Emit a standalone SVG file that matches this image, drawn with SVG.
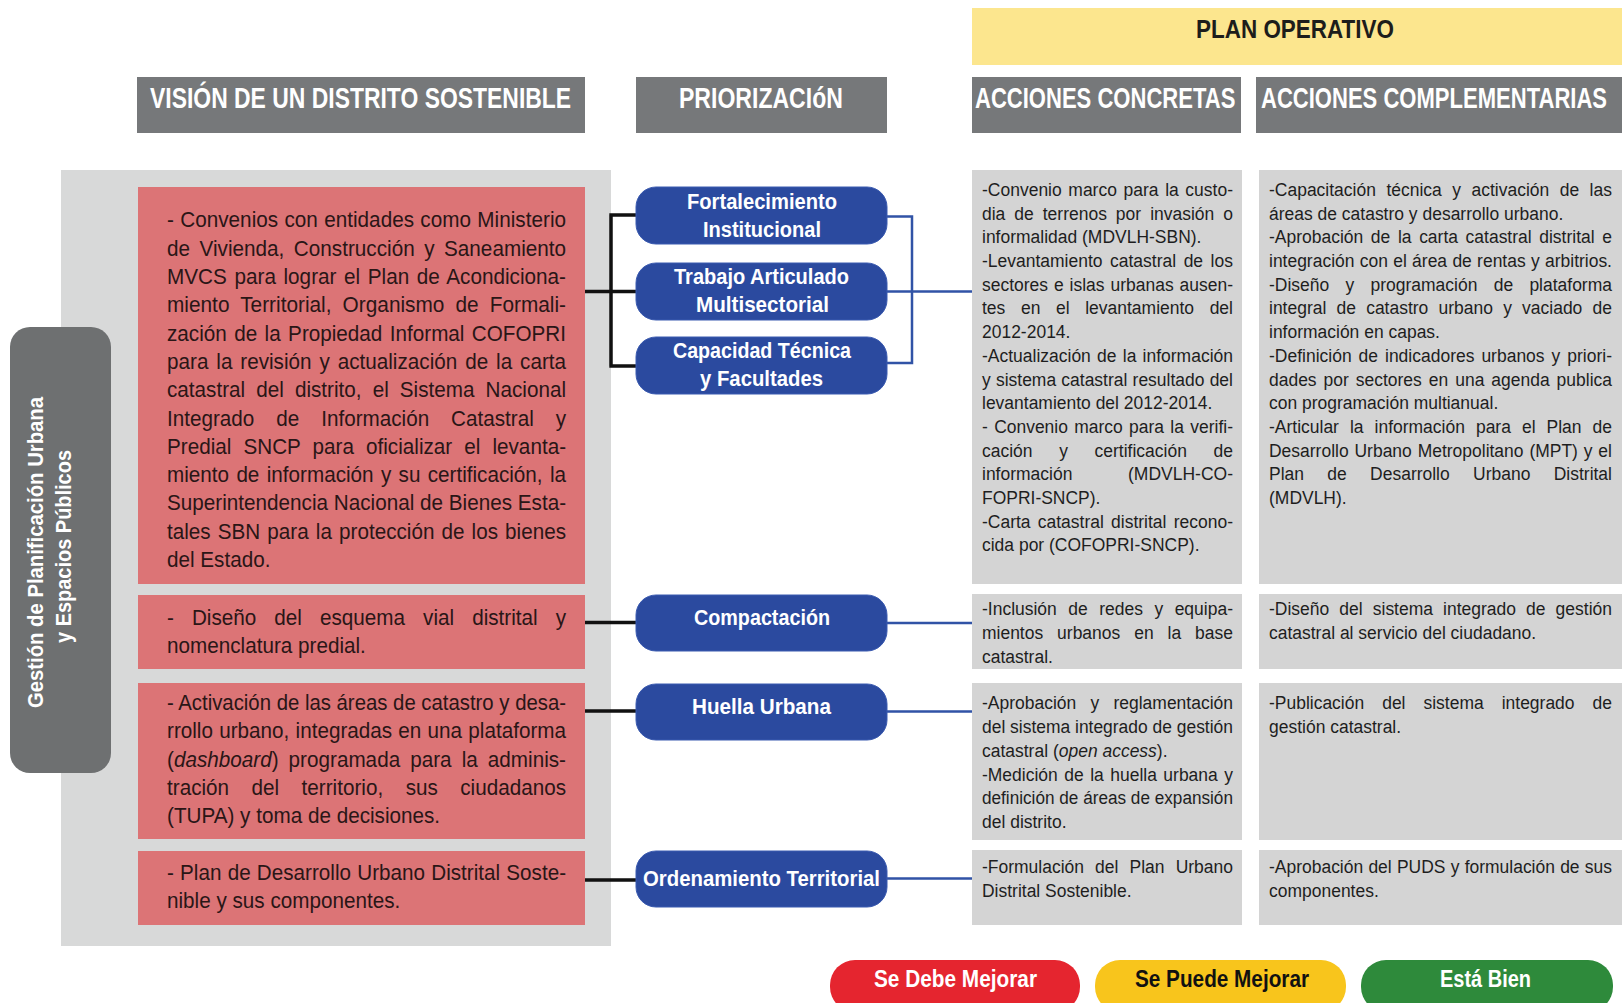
<svg xmlns="http://www.w3.org/2000/svg" width="1622" height="1003" viewBox="0 0 1622 1003">
<style>
.f{font-family:"Liberation Sans",Arial,sans-serif}
.rt{font-family:"Liberation Sans",Arial,sans-serif;font-size:22px;fill:#2a1616}
.ct{font-family:"Liberation Sans",Arial,sans-serif;font-size:19px;fill:#1e1e1e}
.hd{font-family:"Liberation Sans",Arial,sans-serif;font-weight:bold;font-size:29px;fill:#ffffff}
.pl{font-family:"Liberation Sans",Arial,sans-serif;font-weight:bold;font-size:22px;fill:#ffffff}
.lg{font-family:"Liberation Sans",Arial,sans-serif;font-weight:bold;font-size:24px}
.hbox{fill:#76787a}
.red{fill:#dc7476}
.col{fill:#d4d4d4}
.pill{fill:#2b4a9f;stroke:#3a5ab0;stroke-width:1}
.blk{fill:none;stroke:#111111;stroke-width:3.5}
.blu{fill:none;stroke:#3153a6;stroke-width:2.5}
</style>
<rect width="1622" height="1003" fill="#ffffff"/>

<!-- headers -->
<g id="plan-operativo">
<rect x="972" y="8" width="650" height="57" fill="#fce68e"/>
<text class="f" x="1196" y="38" font-weight="bold" font-size="25" fill="#1d1d1b" textLength="198" lengthAdjust="spacingAndGlyphs">PLAN OPERATIVO</text>
</g>
<g id="h-vision">
<rect class="hbox" x="137" y="77" width="448" height="56"/>
<text class="hd" transform="translate(150,108) scale(0.791,1)">VISIÓN DE UN DISTRITO SOSTENIBLE</text>
</g>
<g id="h-priorizacion">
<rect class="hbox" x="636" y="77" width="251" height="56"/>
<text class="hd" transform="translate(679,108) scale(0.795,1)">PRIORIZACIóN</text>
</g>
<g id="h-concretas">
<rect class="hbox" x="972" y="77" width="269" height="56"/>
<text class="hd" transform="translate(975,108) scale(0.76,1)">ACCIONES CONCRETAS</text>
</g>
<g id="h-complementarias">
<rect class="hbox" x="1256" y="77" width="366" height="56"/>
<text class="hd" transform="translate(1261,108) scale(0.76,1)">ACCIONES COMPLEMENTARIAS</text>
</g>

<!-- big panel -->
<g id="panel-vision">
<rect x="61" y="170" width="550" height="776" fill="#d8d9d9"/>
</g>
<g id="label-gestion">
<rect x="10" y="327" width="101" height="446" rx="20" fill="#6e7071"/>
<text class="pl" transform="translate(43,552.5) rotate(-90)" x="-155.5" y="0" textLength="311" lengthAdjust="spacingAndGlyphs">Gestión de Planificación Urbana</text>
<text class="pl" transform="translate(71,546.5) rotate(-90)" x="-96.5" y="0" textLength="193" lengthAdjust="spacingAndGlyphs">y Espacios Públicos</text>
</g>

<!-- connectors -->
<g id="connectors">
<path class="blk" d="M584,291.5 H611 M611,215 V366 M609.3,215 H642 M611,291.5 H642 M609.3,366 H642"/>
<path class="blk" d="M585,622.5 H642 M585,711 H642 M585,880 H642"/>
<path class="blu" d="M882,216.5 H912 V363 H882 M882,291.5 H972 M882,623 H972 M882,711.5 H972 M882,878.5 H972"/>
</g>

<!-- vision boxes -->
<g id="v1">
<rect class="red" x="138" y="187" width="447" height="397"/>
<g transform="translate(167,0) scale(0.94,1)">
<text class="rt" y="227.5" textLength="424.5" lengthAdjust="spacingAndGlyphs" style="word-spacing:0.6px">- Convenios con entidades como Ministerio</text>
<text class="rt" y="255.8" textLength="424.5" lengthAdjust="spacingAndGlyphs" style="word-spacing:4px">de Vivienda, Construcción y Saneamiento</text>
<text class="rt" y="284.1" textLength="424.5" lengthAdjust="spacingAndGlyphs" style="word-spacing:1.9px">MVCS para lograr el Plan de Acondiciona-</text>
<text class="rt" y="312.4" textLength="424.5" lengthAdjust="spacingAndGlyphs" style="word-spacing:5.6px">miento Territorial, Organismo de Formali-</text>
<text class="rt" y="340.7" textLength="424.5" lengthAdjust="spacingAndGlyphs" style="word-spacing:1.8px">zación de la Propiedad Informal COFOPRI</text>
<text class="rt" y="369" textLength="424.5" lengthAdjust="spacingAndGlyphs" style="word-spacing:2.3px">para la revisión y actualización de la carta</text>
<text class="rt" y="397.3" textLength="424.5" lengthAdjust="spacingAndGlyphs" style="word-spacing:5.7px">catastral del distrito, el Sistema Nacional</text>
<text class="rt" y="425.6" textLength="424.5" lengthAdjust="spacingAndGlyphs" style="word-spacing:17.2px">Integrado de Información Catastral y</text>
<text class="rt" y="453.9" textLength="424.5" lengthAdjust="spacingAndGlyphs" style="word-spacing:6.7px">Predial SNCP para oficializar el levanta-</text>
<text class="rt" y="482.2" textLength="424.5" lengthAdjust="spacingAndGlyphs" style="word-spacing:1.7px">miento de información y su certificación, la</text>
<text class="rt" y="510.5" textLength="424.5" lengthAdjust="spacingAndGlyphs">Superintendencia Nacional de Bienes Esta-</text>
<text class="rt" y="538.8" textLength="424.5" lengthAdjust="spacingAndGlyphs" style="word-spacing:1.4px">tales SBN para la protección de los bienes</text>
<text class="rt" y="567.1">del Estado.</text>
</g>
</g>
<g id="v2">
<rect class="red" x="138" y="595" width="447" height="74"/>
<g transform="translate(167,0) scale(0.94,1)">
<text class="rt" y="625" textLength="424.5" lengthAdjust="spacingAndGlyphs" style="word-spacing:13.1px">- Diseño del esquema vial distrital y</text>
<text class="rt" y="653">nomenclatura predial.</text>
</g>
</g>
<g id="v3">
<rect class="red" x="138" y="683" width="447" height="156"/>
<g transform="translate(167,0) scale(0.94,1)">
<text class="rt" y="710" textLength="424.5" lengthAdjust="spacingAndGlyphs">- Activación de las áreas de catastro y desa-</text>
<text class="rt" y="738.3" textLength="424.5" lengthAdjust="spacingAndGlyphs" style="word-spacing:0.5px">rrollo urbano, integradas en una plataforma</text>
<text class="rt" y="766.6" textLength="424.5" lengthAdjust="spacingAndGlyphs" style="word-spacing:4.6px">(<tspan font-style="italic">dashboard</tspan>) programada para la adminis-</text>
<text class="rt" y="794.9" textLength="424.5" lengthAdjust="spacingAndGlyphs" style="word-spacing:17.8px">tración del territorio, sus ciudadanos</text>
<text class="rt" y="823.2">(TUPA) y toma de decisiones.</text>
</g>
</g>
<g id="v4">
<rect class="red" x="138" y="851" width="447" height="74"/>
<g transform="translate(167,0) scale(0.94,1)">
<text class="rt" y="880" textLength="424.5" lengthAdjust="spacingAndGlyphs" style="word-spacing:0.5px">- Plan de Desarrollo Urbano Distrital Soste-</text>
<text class="rt" y="908">nible y sus componentes.</text>
</g>
</g>

<!-- priorization pills -->
<g id="p-fortalecimiento">
<rect class="pill" x="636" y="187" width="251" height="57" rx="20"/>
<text class="pl" x="687" y="209" textLength="150" lengthAdjust="spacingAndGlyphs">Fortalecimiento</text>
<text class="pl" x="703" y="236.5" textLength="118" lengthAdjust="spacingAndGlyphs">Institucional</text>
</g>
<g id="p-trabajo">
<rect class="pill" x="636" y="263" width="251" height="57" rx="20"/>
<text class="pl" x="674" y="284" textLength="175" lengthAdjust="spacingAndGlyphs">Trabajo Articulado</text>
<text class="pl" x="696" y="311.5" textLength="133" lengthAdjust="spacingAndGlyphs">Multisectorial</text>
</g>
<g id="p-capacidad">
<rect class="pill" x="636" y="337" width="251" height="57" rx="20"/>
<text class="pl" x="673" y="358" textLength="178" lengthAdjust="spacingAndGlyphs">Capacidad Técnica</text>
<text class="pl" x="700" y="385.5" textLength="123" lengthAdjust="spacingAndGlyphs">y Facultades</text>
</g>
<g id="p-compactacion">
<rect class="pill" x="636" y="595" width="251" height="56" rx="20"/>
<text class="pl" x="694" y="625" textLength="136" lengthAdjust="spacingAndGlyphs">Compactación</text>
</g>
<g id="p-huella">
<rect class="pill" x="636" y="684" width="251" height="56" rx="20"/>
<text class="pl" x="692" y="714" textLength="139" lengthAdjust="spacingAndGlyphs">Huella Urbana</text>
</g>
<g id="p-ordenamiento">
<rect class="pill" x="636" y="851" width="251" height="56" rx="20"/>
<text class="pl" x="643" y="886" textLength="237" lengthAdjust="spacingAndGlyphs">Ordenamiento Territorial</text>
</g>

<!-- acciones concretas -->
<g id="c1">
<rect class="col" x="972" y="170" width="270" height="414"/>
<g transform="translate(982,0) scale(0.92,1)">
<text class="ct" y="196" textLength="272.8" lengthAdjust="spacingAndGlyphs" style="word-spacing:1.9px">-Convenio marco para la custo-</text>
<text class="ct" y="219.7" textLength="272.8" lengthAdjust="spacingAndGlyphs" style="word-spacing:4.5px">dia de terrenos por invasión o</text>
<text class="ct" y="243.4">informalidad (MDVLH-SBN).</text>
<text class="ct" y="267.1" textLength="272.8" lengthAdjust="spacingAndGlyphs" style="word-spacing:2.9px">-Levantamiento catastral de los</text>
<text class="ct" y="290.8" textLength="272.8" lengthAdjust="spacingAndGlyphs" style="word-spacing:1.2px">sectores e islas urbanas ausen-</text>
<text class="ct" y="314.5" textLength="272.8" lengthAdjust="spacingAndGlyphs" style="word-spacing:11.7px">tes en el levantamiento del</text>
<text class="ct" y="338.2">2012-2014.</text>
<text class="ct" y="361.9" textLength="272.8" lengthAdjust="spacingAndGlyphs" style="word-spacing:1.5px">-Actualización de la información</text>
<text class="ct" y="385.6" textLength="272.8" lengthAdjust="spacingAndGlyphs" style="word-spacing:0.4px">y sistema catastral resultado del</text>
<text class="ct" y="409.3">levantamiento del 2012-2014.</text>
<text class="ct" y="433" textLength="272.8" lengthAdjust="spacingAndGlyphs" style="word-spacing:1.6px">- Convenio marco para la verifi-</text>
<text class="ct" y="456.7" textLength="272.8" lengthAdjust="spacingAndGlyphs" style="word-spacing:23.7px">cación y certificación de</text>
<text class="ct" y="480.4" textLength="272.8" lengthAdjust="spacingAndGlyphs" style="word-spacing:55px">información (MDVLH-CO-</text>
<text class="ct" y="504.1">FOPRI-SNCP).</text>
<text class="ct" y="527.8" textLength="272.8" lengthAdjust="spacingAndGlyphs" style="word-spacing:2.6px">-Carta catastral distrital recono-</text>
<text class="ct" y="551.5">cida por (COFOPRI-SNCP).</text>
</g>
</g>
<g id="c2">
<rect class="col" x="972" y="594" width="270" height="75"/>
<g transform="translate(982,0) scale(0.92,1)">
<text class="ct" y="615" textLength="272.8" lengthAdjust="spacingAndGlyphs" style="word-spacing:7.2px">-Inclusión de redes y equipa-</text>
<text class="ct" y="639" textLength="272.8" lengthAdjust="spacingAndGlyphs" style="word-spacing:9.9px">mientos urbanos en la base</text>
<text class="ct" y="663">catastral.</text>
</g>
</g>
<g id="c3">
<rect class="col" x="972" y="683" width="270" height="157"/>
<g transform="translate(982,0) scale(0.92,1)">
<text class="ct" y="709" textLength="272.8" lengthAdjust="spacingAndGlyphs" style="word-spacing:10.2px">-Aprobación y reglamentación</text>
<text class="ct" y="733" textLength="272.8" lengthAdjust="spacingAndGlyphs">del sistema integrado de gestión</text>
<text class="ct" y="757">catastral (<tspan font-style="italic">open access</tspan>).</text>
<text class="ct" y="781" textLength="272.8" lengthAdjust="spacingAndGlyphs" style="word-spacing:1.8px">-Medición de la huella urbana y</text>
<text class="ct" y="804.5" textLength="272.8" lengthAdjust="spacingAndGlyphs">definición de áreas de expansión</text>
<text class="ct" y="828">del distrito.</text>
</g>
</g>
<g id="c4">
<rect class="col" x="972" y="850" width="270" height="75"/>
<g transform="translate(982,0) scale(0.92,1)">
<text class="ct" y="873" textLength="272.8" lengthAdjust="spacingAndGlyphs" style="word-spacing:6.8px">-Formulación del Plan Urbano</text>
<text class="ct" y="897">Distrital Sostenible.</text>
</g>
</g>

<!-- acciones complementarias -->
<g id="k1">
<rect class="col" x="1259" y="170" width="363" height="414"/>
<g transform="translate(1269,0) scale(0.92,1)">
<text class="ct" y="196" textLength="372.8" lengthAdjust="spacingAndGlyphs" style="word-spacing:6.1px">-Capacitación técnica y activación de las</text>
<text class="ct" y="219.7">áreas de catastro y desarrollo urbano.</text>
<text class="ct" y="243.4" textLength="372.8" lengthAdjust="spacingAndGlyphs" style="word-spacing:3px">-Aprobación de la carta catastral distrital e</text>
<text class="ct" y="267.1" textLength="372.8" lengthAdjust="spacingAndGlyphs" style="word-spacing:0.5px">integración con el área de rentas y arbitrios.</text>
<text class="ct" y="290.8" textLength="372.8" lengthAdjust="spacingAndGlyphs" style="word-spacing:12.4px">-Diseño y programación de plataforma</text>
<text class="ct" y="314.5" textLength="372.8" lengthAdjust="spacingAndGlyphs" style="word-spacing:5.8px">integral de catastro urbano y vaciado de</text>
<text class="ct" y="338.2">información en capas.</text>
<text class="ct" y="361.9" textLength="372.8" lengthAdjust="spacingAndGlyphs" style="word-spacing:2.3px">-Definición de indicadores urbanos y priori-</text>
<text class="ct" y="385.6" textLength="372.8" lengthAdjust="spacingAndGlyphs" style="word-spacing:2.3px">dades por sectores en una agenda publica</text>
<text class="ct" y="409.3">con programación multianual.</text>
<text class="ct" y="433" textLength="372.8" lengthAdjust="spacingAndGlyphs" style="word-spacing:6.7px">-Articular la información para el Plan de</text>
<text class="ct" y="456.7" textLength="372.8" lengthAdjust="spacingAndGlyphs" style="word-spacing:1.1px">Desarrollo Urbano Metropolitano (MPT) y el</text>
<text class="ct" y="480.4" textLength="372.8" lengthAdjust="spacingAndGlyphs" style="word-spacing:20.1px">Plan de Desarrollo Urbano Distrital</text>
<text class="ct" y="504.1">(MDVLH).</text>
</g>
</g>
<g id="k2">
<rect class="col" x="1259" y="594" width="363" height="75"/>
<g transform="translate(1269,0) scale(0.92,1)">
<text class="ct" y="615" textLength="372.8" lengthAdjust="spacingAndGlyphs" style="word-spacing:5.7px">-Diseño del sistema integrado de gestión</text>
<text class="ct" y="639">catastral al servicio del ciudadano.</text>
</g>
</g>
<g id="k3">
<rect class="col" x="1259" y="683" width="363" height="157"/>
<g transform="translate(1269,0) scale(0.92,1)">
<text class="ct" y="709" textLength="372.8" lengthAdjust="spacingAndGlyphs" style="word-spacing:14.3px">-Publicación del sistema integrado de</text>
<text class="ct" y="733">gestión catastral.</text>
</g>
</g>
<g id="k4">
<rect class="col" x="1259" y="850" width="363" height="75"/>
<g transform="translate(1269,0) scale(0.92,1)">
<text class="ct" y="873" textLength="372.8" lengthAdjust="spacingAndGlyphs" style="word-spacing:0.4px">-Aprobación del PUDS y formulación de sus</text>
<text class="ct" y="897">componentes.</text>
</g>
</g>

<!-- legend -->
<g id="legend-rojo">
<rect x="830" y="960" width="250" height="52" rx="25" fill="#e5252f"/>
<text class="lg" x="874" y="987" fill="#ffffff" textLength="163" lengthAdjust="spacingAndGlyphs">Se Debe Mejorar</text>
</g>
<g id="legend-amarillo">
<rect x="1095" y="960" width="251" height="52" rx="25" fill="#f8c51c"/>
<text class="lg" x="1135" y="987" fill="#111111" textLength="174" lengthAdjust="spacingAndGlyphs">Se Puede Mejorar</text>
</g>
<g id="legend-verde">
<rect x="1361" y="960" width="252" height="52" rx="25" fill="#2e8a3b"/>
<text class="lg" x="1440" y="987" fill="#ffffff" textLength="91" lengthAdjust="spacingAndGlyphs">Está Bien</text>
</g>
</svg>
